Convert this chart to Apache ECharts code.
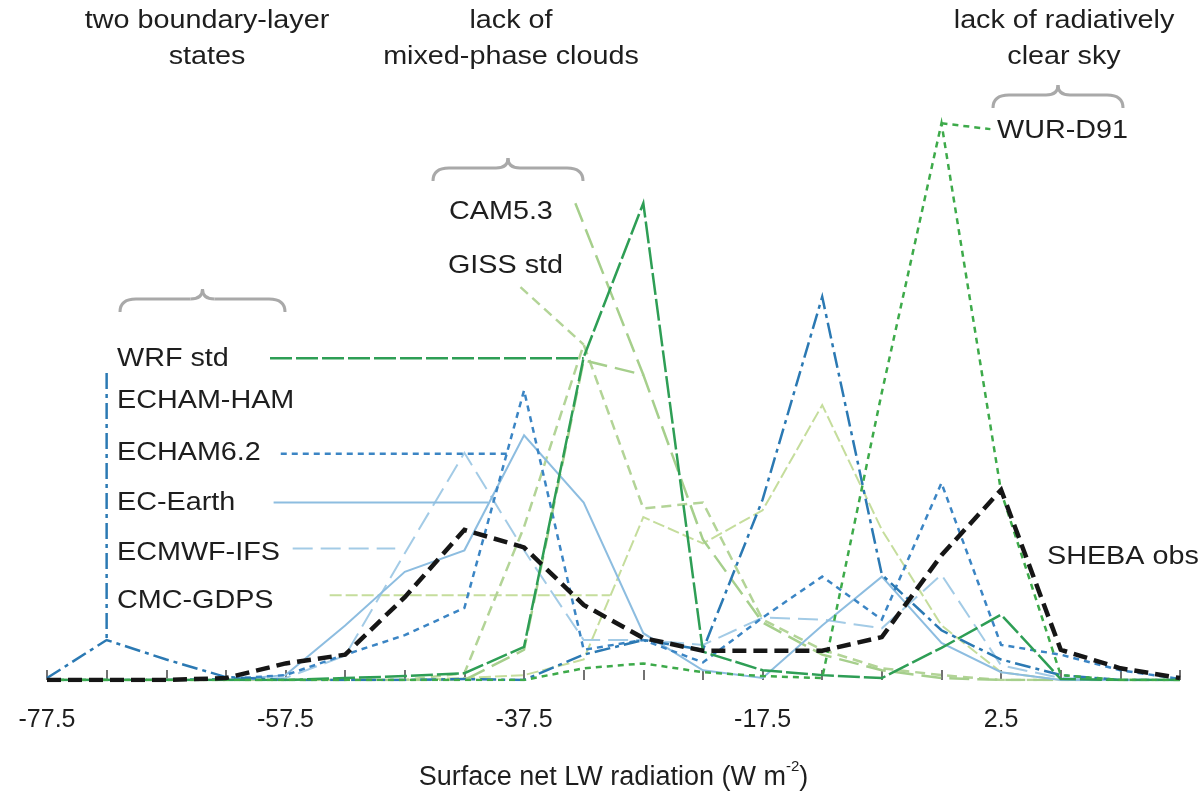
<!DOCTYPE html>
<html><head><meta charset="utf-8">
<script src="https://cdn.jsdelivr.net/npm/echarts@6/dist/echarts.min.js"></script>
<style>html,body{margin:0;padding:0;background:#fff}#c{width:1204px;height:792px}</style>
</head><body><div id="c"></div>
<script>
// Bin centres of surface net LW radiation (W m-2)
const bins = [-77.5,-72.5,-67.5,-62.5,-57.5,-52.5,-47.5,-42.5,-37.5,-32.5,-27.5,-22.5,-17.5,-12.5,-7.5,-2.5,2.5,7.5,12.5,17.5];
const tickLabels = [-77.5,-57.5,-37.5,-17.5,2.5];
// Frequency (%) per bin
const shebaObs = [0,0,0,0.2,1.7,2.6,8.5,15.4,13.6,7.7,4.3,3.0,3.0,3.0,4.4,12.8,19.5,3.1,1.2,0.2];
const wurD91   = [0,0,0,0,0,0,0,0,0,1.2,1.7,0.8,0.4,0.2,29.5,57.1,19.3,0.5,0,0];
const wrfStd   = [0,0,0,0,0,0.2,0.4,0.7,3.4,33.1,48.9,2.9,1.0,0.5,0.2,3.3,6.7,0.1,0,0];
const cam53    = [0,0,0,0,0,0,0,0,3.1,32.8,31.3,14.4,5.9,2.6,1.0,0.2,0,0,0,0];
const gissStd  = [0,0,0,0,0,0,0,0.7,15.7,34.4,17.6,18.2,6.2,3.1,1.2,0.5,0,0,0,0];
const cmcGdps  = [0,0,0,0,0,0,0,0.2,0.5,2.1,16.7,14.0,17.4,28.2,15.4,5.6,0.8,0,0,0];
const echamHam = [0.2,4.1,2.1,0.3,0,0,0,0.1,0,2.6,4.1,3.1,18.5,39.3,10.8,5.1,2.1,0.5,0,0];
const echam62  = [0,0,0,0.1,0.5,2.6,4.6,7.4,29.7,3.1,4.1,1.8,6.4,10.6,6.2,20.2,3.6,2.6,1.0,0.1];
const ecEarth  = [0,0,0,0,0.5,5.6,11.1,13.3,25.1,18.2,4.8,1.0,0.2,5.6,10.6,3.8,0.8,0,0,0];
const ecmwfIfs = [0,0,0,0,0.2,2.5,13.0,23.3,13.3,4.1,4.1,3.6,6.4,6.2,5.3,10.8,1.5,0.2,0,0];
// Leader lines from labels to curves (data coordinates)
const leadWRF   = [[-58.8,33.0],[-32.5,33.0]];
const leadHAM   = [[-72.5,31.5],[-72.5,4.1]];
const lead62    = [[-57.9,23.2],[-38.9,23.2]];
const leadEarth = [[-58.5,18.2],[-40.5,18.2]];
const leadIFS   = [[-56.9,13.5],[-48.3,13.5]];
const leadCMC   = [[-53.8,8.7],[-30.3,8.7]];
const leadCAM   = [[-33.2,48.9],[-27.5,31.3]];
const leadGISS  = [[-37.8,40.3],[-32.5,34.4]];
const leadWUR   = [[-2.5,57.1],[1.6,56.5]];

const FONT = '"Liberation Sans", Arial, sans-serif';
function pts(arr){ return bins.map((b,i)=>[b,arr[i]]); }
function ser(name, data, color, width, dash, z){
  return {name, type:'line', data, symbol:'none', silent:true, z:z||2,
    lineStyle:{color, width, type: dash, cap:'butt', join:'miter'}};
}
const styles = {
  cmc:   ['#c5dd9c', 2,   [12,4]],
  gissS: ['#b3d497', 2.5, [10,6]],
  cam:   ['#a6cf8c', 2.5, [20,8]],
  wur:   ['#3daa4a', 2.5, [6,5]],
  wrf:   ['#2e9e55', 2.5, [22,4]],
  ifs:   ['#a3cbe6', 2,   [20,8]],
  earth: ['#8dbde0', 2,   'solid'],
  e62:   ['#3b85c4', 2.5, [6,5]],
  ham:   ['#2b79b3', 2.5, [16,5,4,5]],
  sheba: ['#161616', 4.5, [14,7]]
};
function S(key, name, data, z){ const s=styles[key]; return ser(name, data, s[0], s[1], s[2], z); }

const series = [
  S('cmc','CMC-GDPS',pts(cmcGdps)), S('cmc','l1',leadCMC),
  S('gissS','GISS std',pts(gissStd)), S('gissS','l2',leadGISS),
  S('cam','CAM5.3',pts(cam53)), S('cam','l3',leadCAM),
  S('ifs','ECMWF-IFS',pts(ecmwfIfs)), S('ifs','l4',leadIFS),
  S('earth','EC-Earth',pts(ecEarth)), S('earth','l5',leadEarth),
  S('e62','ECHAM6.2',pts(echam62)), S('e62','l6',lead62),
  S('ham','ECHAM-HAM',pts(echamHam)), S('ham','l7',leadHAM),
  S('wrf','WRF std',pts(wrfStd)), S('wrf','l8',leadWRF),
  S('wur','WUR-D91',pts(wurD91)), S('wur','l9',leadWUR),
  S('sheba','SHEBA obs',pts(shebaObs),5)
];

function txt(text, x, y, align){
  return {type:'text', x, y, scaleX:1.15, style:{text, fill:'#1e1e1e', font:'25px '+FONT, textAlign:align||'left', textVerticalAlign:'middle'}, silent:true};
}
const BR = {stroke:'#a9a9a9', fill:null, lineWidth:3};
function brace(x0,x1,y1,y0,yt){
  const xm=(x0+x1)/2;
  return {type:'group', silent:true, children:[
    {type:'bezierCurve', shape:{x1:x0,y1:y1,cpx1:x0,cpy1:y0,x2:x0+16,y2:y0}, style:BR},
    {type:'line', shape:{x1:x0+16,y1:y0,x2:xm-12,y2:y0}, style:BR},
    {type:'bezierCurve', shape:{x1:xm-12,y1:y0,cpx1:xm,cpy1:y0,x2:xm,y2:yt}, style:BR},
    {type:'bezierCurve', shape:{x1:xm,y1:yt,cpx1:xm,cpy1:y0,x2:xm+12,y2:y0}, style:BR},
    {type:'line', shape:{x1:xm+12,y1:y0,x2:x1-16,y2:y0}, style:BR},
    {type:'bezierCurve', shape:{x1:x1-16,y1:y0,cpx1:x1,cpy1:y0,x2:x1,y2:y1}, style:BR}
  ]};
}
const graphics = [
  txt('two boundary-layer',207,21,'center'), txt('states',207,57,'center'),
  txt('lack of',511,21,'center'), txt('mixed-phase clouds',511,57,'center'),
  txt('lack of radiatively',1064,21,'center'), txt('clear sky',1064,57,'center'),
  txt('WRF std',117,359), txt('ECHAM-HAM',117,401), txt('ECHAM6.2',117,453),
  txt('EC-Earth',117,503), txt('ECMWF-IFS',117,553), txt('CMC-GDPS',117,601),
  txt('CAM5.3',449,212), txt('GISS std',448,266),
  txt('WUR-D91',997,131), txt('SHEBA obs',1047,557),
  brace(120,285,312,299,289), brace(433,583,181,168,158), brace(993,1123,108,95,85)
];

const chart = echarts.init(document.getElementById('c'), null, {renderer:'canvas'});
chart.setOption({
  animation:false,
  backgroundColor:'#ffffff',
  grid:{left:47, right:24, top:95, bottom:112, containLabel:false, outerBoundsMode:'none'},
  xAxis:{type:'value', min:-77.5, max:17.5,
    name:'Surface net LW radiation (W m{sup|-2})', nameLocation:'middle', nameGap:79,
    nameTextStyle:{color:'#1e1e1e', fontSize:27, fontFamily:FONT,
      rich:{sup:{fontSize:15, fontFamily:FONT, color:'#1e1e1e', verticalAlign:'top', lineHeight:38}}},
    axisLine:{show:false},
    axisTick:{show:true, inside:true, length:10, customValues:bins, lineStyle:{color:'#444', width:1.5}},
    axisLabel:{show:true, customValues:tickLabels, margin:28, color:'#1e1e1e', fontSize:25, fontFamily:FONT,
      formatter:v=>String(v)},
    splitLine:{show:false}},
  yAxis:{type:'value', min:0, max:60, show:false, splitLine:{show:false}},
  series,
  graphic:graphics
});
</script></body></html>
